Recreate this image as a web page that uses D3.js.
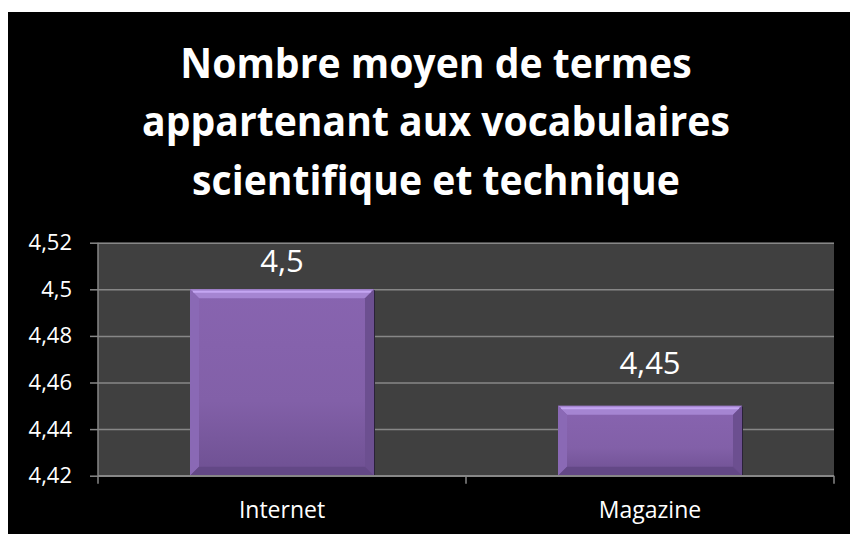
<!DOCTYPE html>
<html>
<head>
<meta charset="utf-8">
<script src="https://cdn.jsdelivr.net/npm/d3@7"></script>
<style>
    body { margin: 0; background: #fff; }
    text { font-family: "Open Sans", "DejaVu Sans", sans-serif; fill: #fff; }
</style>
</head>
<body>
<div id="barChart"></div>
<script>
// chart data
const titleLines = ["Nombre moyen de termes", "appartenant aux vocabulaires", "scientifique et technique"];
const categories = ["Internet", "Magazine"];
const values = [4.5, 4.45];
const valueLabels = ["4,5", "4,45"];
const yTicks = [4.42, 4.44, 4.46, 4.48, 4.5, 4.52];
const yTickLabels = ["4,42", "4,44", "4,46", "4,48", "4,5", "4,52"];

const W = 850, H = 534;
const plot = { left: 98, right: 834, top: 242.7, bottom: 475.7 };

var svg = d3.select("#barChart").append("svg")
    .attr("width", W)
    .attr("height", H);

// black chart area
svg.append("rect")
    .attr("x", 8).attr("y", 12)
    .attr("width", W - 8).attr("height", H - 12)
    .attr("fill", "#000");

// title (Calibri-like: tall glyphs, squeezed horizontally to the reference width)
var title = svg.append("g").attr("class", "grf_title");
title.selectAll("text").data(titleLines).enter().append("text")
    .attr("x", 0)
    .attr("y", (d, i) => 78 + i * 58.5)
    .attr("text-anchor", "middle")
    .style("font-weight", "bold")
    .style("font-size", "41px")
    .text(d => d);

var widest = d3.max(title.selectAll("text").nodes(), n => n.getComputedTextLength());
title.attr("transform", "translate(436,0) scale(" + Math.min(1, 588 / widest) + ",1)");

// scales
var x = d3.scaleBand()
    .domain(categories)
    .range([plot.left, plot.right])
    .paddingInner(0.5)
    .paddingOuter(0.25);
var y = d3.scaleLinear()
    .domain([yTicks[0], yTicks[yTicks.length - 1]])
    .range([plot.bottom, plot.top]);

// plot area
svg.append("rect")
    .attr("x", plot.left).attr("y", plot.top)
    .attr("width", plot.right - plot.left)
    .attr("height", plot.bottom - plot.top)
    .attr("fill", "#404040");

// grid
svg.append("g")
    .attr("class", "grid")
    .attr("transform", "translate(" + plot.left + ",0)")
    .call(d3.axisLeft(y).tickValues(yTicks).tickSize(-(plot.right - plot.left)).tickFormat(""))
    .call(g => g.select(".domain").remove())
    .call(g => g.selectAll("line").attr("stroke", "#878787").attr("stroke-width", 1.5));

// bar gradients
var defs = svg.append("defs");
var grad = defs.append("linearGradient")
    .attr("id", "barFace")
    .attr("x1", 0).attr("y1", 0).attr("x2", 0).attr("y2", 1);
grad.append("stop").attr("offset", "0%").attr("stop-color", "#8864b0");
grad.append("stop").attr("offset", "60%").attr("stop-color", "#8260a8");
grad.append("stop").attr("offset", "100%").attr("stop-color", "#6e5092");

var bev = 9;
var bars = svg.selectAll(".bar").data(values).enter().append("g")
    .attr("class", "bar");

bars.each(function(d, i) {
    var g = d3.select(this);
    var x0 = x(categories[i]), x1 = x0 + x.bandwidth();
    var y0 = y(d), y1 = y(yTicks[0]);
    var b = Math.min(bev, (y1 - y0) / 3);

    // shadow on the right
    g.append("rect")
        .attr("x", x0 + 1).attr("y", y0 + 1)
        .attr("width", x.bandwidth()).attr("height", y1 - y0 - 1)
        .attr("fill", "#2a2238");

    g.append("rect")
        .attr("x", x0).attr("y", y0)
        .attr("width", x.bandwidth()).attr("height", y1 - y0)
        .attr("fill", "url(#barFace)");

    // bevel edges
    var pts = p => p.map(q => q.join(",")).join(" ");
    g.append("polygon")
        .attr("points", pts([[x0, y0], [x1, y0], [x1 - b, y0 + b], [x0 + b, y0 + b]]))
        .attr("fill", "#a585d2");
    g.append("line")
        .attr("x1", x0 + 3).attr("x2", x1 - 3)
        .attr("y1", y0 + 2.5).attr("y2", y0 + 2.5)
        .attr("stroke", "#c4a6f2").attr("stroke-width", 2);
    g.append("polygon")
        .attr("points", pts([[x0, y0], [x0 + b, y0 + b], [x0 + b, y1 - b], [x0, y1]]))
        .attr("fill", "#8a69b5");
    g.append("polygon")
        .attr("points", pts([[x1, y0], [x1, y1], [x1 - b, y1 - b], [x1 - b, y0 + b]]))
        .attr("fill", "#6c4f90");
    g.append("polygon")
        .attr("points", pts([[x0, y1], [x0 + b, y1 - b], [x1 - b, y1 - b], [x1, y1]]))
        .attr("fill", "#634886");
});

// value labels
svg.selectAll(".bar_txt").data(values).enter().append("text")
    .attr("class", "bar_txt")
    .attr("x", (d, i) => x(categories[i]) + x.bandwidth() / 2)
    .attr("y", d => Math.max(y(d) - 32, plot.top + 29))
    .attr("text-anchor", "middle")
    .style("font-size", "31px")
    .text((d, i) => valueLabels[i]);

// y axis
var yAxis = svg.append("g")
    .attr("class", "yticks")
    .attr("transform", "translate(" + plot.left + ",0)")
    .call(d3.axisLeft(y).tickValues(yTicks).tickSize(8).tickPadding(18)
        .tickFormat((d, i) => yTickLabels[i]));
yAxis.selectAll("line, path").attr("stroke", "#878787").attr("stroke-width", 1.5);
yAxis.select(".domain").attr("d", "M0," + plot.top + "V" + plot.bottom);
yAxis.selectAll("text")
    .attr("fill", "#fff")
    .style("font-family", "'Open Sans', sans-serif")
    .style("font-size", "22px");

// x axis
var xAxis = svg.append("g")
    .attr("class", "xticks")
    .attr("transform", "translate(0," + plot.bottom + ")")
    .call(d3.axisBottom(x).tickSize(0).tickPadding(26));
xAxis.select(".domain")
    .attr("d", "M" + plot.left + ",0H" + plot.right)
    .attr("stroke", "#878787").attr("stroke-width", 1.5);
xAxis.selectAll("text")
    .attr("fill", "#fff")
    .style("font-family", "'Open Sans', sans-serif")
    .style("font-size", "23px");

// category boundary ticks
var bounds = [plot.left].concat(categories.map(c => x(c) + x.bandwidth() + x.step() * 0.25));
xAxis.selectAll(".bound").data(bounds).enter().append("line")
    .attr("class", "bound")
    .attr("x1", d => d).attr("x2", d => d)
    .attr("y1", 0).attr("y2", 8)
    .attr("stroke", "#878787").attr("stroke-width", 1.5);
</script>
</body>
</html>
